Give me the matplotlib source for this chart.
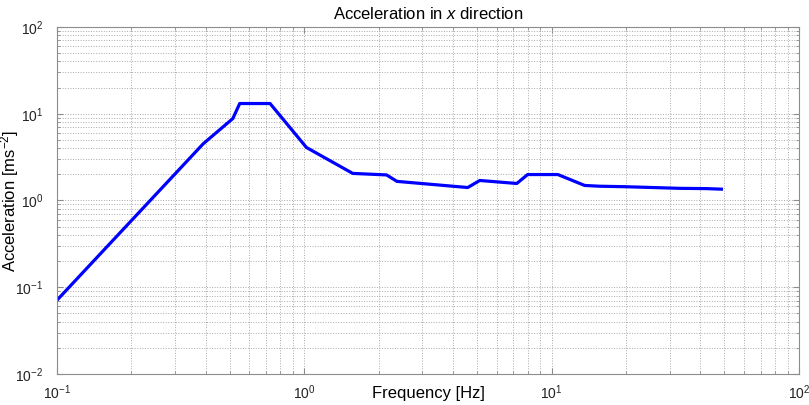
import numpy as np
import matplotlib
matplotlib.use('Agg')
import matplotlib.pyplot as plt

plt.rcParams['font.family'] = ['Liberation Sans', 'DejaVu Sans']
plt.rcParams['mathtext.fontset'] = 'custom'
plt.rcParams['mathtext.rm'] = 'Liberation Sans'
plt.rcParams['mathtext.it'] = 'Liberation Sans:italic'

ftsize = 12

# data
freq = [0.1, 0.39, 0.514, 0.548, 0.727, 1.02, 1.57, 2.15, 2.37, 4.58, 5.12,
        7.23, 8.0, 10.6, 13.6, 15.6, 20.0, 25.6, 32.9, 42.3, 48.6]
accel = [0.071, 4.5, 8.8, 13.1, 13.1, 4.08, 2.05, 1.97, 1.66, 1.41, 1.70,
         1.57, 1.99, 1.99, 1.49, 1.46, 1.44, 1.41, 1.38, 1.37, 1.35]

fig = plt.figure(figsize=(8.09, 4.05), dpi=100)
ax = fig.add_axes([0.0705, 0.0765, 0.917, 0.857])

ax.loglog(freq, accel, color='#0000ff', lw=2.3)

ax.set_xlim(0.1, 100)
ax.set_ylim(0.01, 100)

ax.grid(True, which='both', linestyle=':', color='#a8a8a8', lw=0.7)
ax.tick_params(which='both', direction='in', top=True, right=True,
               labelsize=10, colors='#8c8c8c', labelcolor='#222222')
ax.tick_params(which='major', length=4)
ax.tick_params(which='minor', length=2.5)
ax.tick_params(axis='x', which='major', pad=7)
ax.tick_params(axis='y', which='major', pad=10)
for s in ax.spines.values():
    s.set_color('#8c8c8c')

ax.set_title('Acceleration in $\\mathit{x}$ direction', fontsize=ftsize, pad=6)
ax.set_xlabel('Frequency [Hz]', fontsize=ftsize)
ax.set_ylabel('Acceleration [ms$^{-2}$]', fontsize=ftsize)
ax.xaxis.set_label_coords(0.5, -0.035)
ax.yaxis.set_label_coords(-0.048, 0.5)

plt.savefig('out.png', dpi=100)
